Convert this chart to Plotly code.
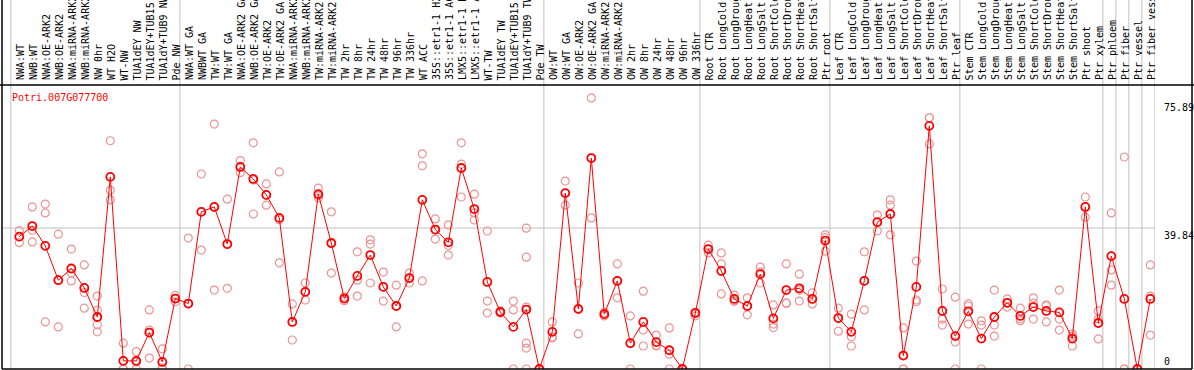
import plotly.graph_objects as go

labels = [
    "NWA:WT", "NWB:WT", "NWA:OE-ARK2", "NWB:OE-ARK2", "NWA:miRNA-ARK2", "NWB:miRNA-ARK2",
    "NW 0hr", "WT H2O", "WT-NW", "TUA1dEY NW", "TUA1dEY+TUB15 NW", "TUA1dY+TUB9 NW", "Pde NW",
    "NWA:WT GA", "NWBWT GA", "TW:WT", "TW:WT GA", "NWA:OE-ARK2 GA", "NWB:OE-ARK2 GA",
    "TW:OE-ARK2", "TW:OE-ARK2 GA", "NWA:miRNA-ARK2 GA", "NWB:miRNA-ARK2 GA", "TW:miRNA-ARK2",
    "TW:miRNA-ARK2 GA", "TW 2hr", "TW 8hr", "TW 24hr", "TW 48hr", "TW 96hr", "TW 336hr",
    "WT ACC", "35S::etr1-1 H2O", "35S::etr1-1 ACC", "LMX5::etr1-1 H2O", "LMX5::etr1-1 ACC",
    "WT-TW", "TUA1dEY TW", "TUA1dEY+TUB15 TW", "TUA1dY+TUB9 TW", "Pde TW",
    "OW:WT", "OW:WT GA", "OW:OE-ARK2", "OW:OE-ARK2 GA", "OW:miRNA-ARK2", "OW:miRNA-ARK2 GA",
    "OW 2hr", "OW 8hr", "OW 24hr", "OW 48hr", "OW 96hr", "OW 336hr",
    "Root CTR", "Root LongCold", "Root LongDrought", "Root LongHeat", "Root LongSalt",
    "Root ShortCold", "Root ShortDrought", "Root ShortHeat", "Root ShortSalt", "Ptr root",
    "Leaf CTR", "Leaf LongCold", "Leaf LongDrought", "Leaf LongHeat", "Leaf LongSalt",
    "Leaf ShortCold", "Leaf ShortDrought", "Leaf ShortHeat", "Leaf ShortSalt", "Ptr leaf",
    "Stem CTR", "Stem LongCold", "Stem LongDrought", "Stem LongHeat", "Stem LongSalt",
    "Stem ShortCold", "Stem ShortDrought", "Stem ShortHeat", "Stem ShortSalt", "Ptr shoot",
    "Ptr xylem", "Ptr phloem", "Ptr fiber", "Ptr vessel", "Ptr fiber vessel",
]

means = [
    37.4, 40.4, 34.8, 25.1, 28.4, 22.9, 14.7, 54.3, 2.3, 2.3, 10.3, 2.0, 19.9,
    18.5, 44.4, 45.8, 35.3, 57.1, 53.7, 49.2, 42.7, 13.3, 21.8, 49.4, 35.6, 19.9,
    26.3, 32.2, 23.2, 17.8, 25.7, 47.8, 39.4, 35.8, 56.8, 45.2, 24.6, 16.1, 11.9,
    16.8, 0.0,
    10.5, 49.7, 17.0, 59.6, 15.5, 24.9, 7.3, 13.3, 7.6, 5.3, 0.0, 15.8,
    33.9, 27.7, 19.8, 17.8, 26.8, 14.3, 22.3, 22.8, 19.8, 36.3,
    14.4, 10.5, 24.9, 41.5, 43.8, 3.8, 23.2, 68.7, 16.4, 9.3,
    16.3, 8.6, 14.7, 18.7, 15.0, 17.5, 16.4, 16.0, 8.6, 45.8, 13.0,
    31.9, 19.8, 0.0, 19.8,
]

replicates = [
    [39.1, 37.4, 35.7], [45.8, 39.2, 35.9], [46.6, 44.1, 13.3], [38.1, 25.2, 11.9],
    [33.9, 27.1, 24.9], [29.4, 21.6, 17.2], [20.6, 16.6, 14.6, 12.5, 10.5],
    [64.5, 50.5, 47.8], [7.3, 0, 0], [4.9, 2.0, 0], [16.7, 11.0, 3.1], [5.7, 0.3, 0],
    [20.8, 19.9, 19.0],
    [37.0, 18.4, 0], [55.1, 44.4, 33.6], [69.2, 45.8, 22.3], [48.0, 35.2, 22.8],
    [58.9, 57.1, 55.5], [63.9, 53.4, 43.8], [52.3, 49.1, 46.3], [55.7, 42.2, 30.0],
    [18.4, 13.3, 8.2], [24.3, 21.8, 19.5], [51.1, 49.0, 48.3], [44.4, 35.4, 27.1],
    [20.4, 19.9, 19.3], [33.1, 25.1, 20.6], [36.5, 35.3, 24.3], [27.4, 23.2, 19.2],
    [23.7, 17.8, 11.9], [27.1, 25.7, 24.3], [60.8, 57.4, 24.9], [42.4, 39.4, 36.7],
    [40.7, 34.9, 32.2], [63.9, 57.9, 48.6], [49.4, 44.1, 42.1], [39.0, 19.2, 15.8],
    [16.4, 16.1, 15.8], [19.2, 16.7, 0], [39.8, 31.6, 17.5, 7.3, 5.9, 0], [0, 0, 0],
    [13.3, 9.0, 8.8], [53.1, 49.7, 46.3], [24.3, 16.8, 9.9], [76.6, 59.6, 42.7],
    [16.0, 15.5, 15.0], [29.7, 24.9, 20.1], [15.0, 7.3, 0], [22.0, 11.0, 6.5],
    [9.6, 6.7, 6.5], [11.6, 4.2, 0], [0, 0, 0], [16.1, 15.8, 15.0],
    [35.0, 33.9, 32.8], [32.8, 29.7, 21.2], [20.9, 19.2, 19.2], [20.1, 17.8, 15.3],
    [28.8, 27.4, 24.3], [18.1, 12.7, 11.7], [29.7, 18.6, 18.6], [26.8, 22.3, 19.2],
    [21.5, 19.8, 18.4], [37.9, 37.1, 33.3],
    [17.2, 14.4, 10.7], [15.5, 9.1, 6.5], [33.1, 24.9, 16.7], [43.5, 41.5, 39.0],
    [47.8, 46.3, 37.9], [11.6, 0, 0], [30.5, 19.5, 19.0], [71.0, 71.0, 63.6],
    [22.6, 14.1, 12.4], [20.3, 7.6, 0],
    [18.4, 17.8, 12.7], [13.6, 12.4, 0], [22.3, 12.4, 9.3], [19.8, 18.7, 17.5],
    [17.2, 14.1, 13.6], [20.1, 18.6, 14.1], [18.1, 17.8, 13.3], [22.3, 14.1, 11.0],
    [9.9, 9.3, 6.5], [48.6, 45.8, 42.9], [16.4, 14.1, 8.5],
    [44.1, 28.0, 23.7], [59.9, 0, 0], [0, 0, 0], [29.4, 20.6, 9.6],
]

group_starts = [0, 13, 41, 53, 63, 73, 84, 85, 86, 87, 88]
y_ticks = [0, 39.84, 75.89]
gene = "Potri.007G077700"

# ---- layout geometry ----
W, H = 1194, 370
ML, MR, MT, MB = 2, 39, 85, 1
PW = W - ML - MR
PH = H - MT - MB
XR = [-1.331, 87.36]
YR = [0, 80.25]
MONO = "DejaVu Sans Mono"
GRAY = "#c0c0c0"

idx = list(range(len(labels)))
rx, ry = [], []
for i, reps in enumerate(replicates):
    for v in reps:
        rx.append(i)
        ry.append(v)

fig = go.Figure()
fig.add_trace(go.Scatter(
    x=rx, y=ry, mode="markers",
    marker=dict(symbol="circle-open", size=8, color="#ec9494", line=dict(width=1.2, color="#ec9494")),
    hoverinfo="skip", showlegend=False,
))
fig.add_trace(go.Scatter(
    x=idx, y=means, mode="lines+markers",
    line=dict(color="#ff0000", width=1),
    marker=dict(symbol="circle-open", size=8, color="#ff0000", line=dict(width=1.8, color="#ff0000")),
    showlegend=False,
))

shapes = []
top_paper = 1 + MT / PH + 0.01
# group separators
for b in group_starts:
    shapes.append(dict(type="line", xref="x", yref="paper", x0=b - 0.65, x1=b - 0.65,
                       y0=0, y1=top_paper, line=dict(color=GRAY, width=1), layer="below"))
# horizontal grid at middle tick
shapes.append(dict(type="line", xref="paper", yref="y", x0=0, x1=1, y0=y_ticks[1], y1=y_ticks[1],
                   line=dict(color=GRAY, width=1), layer="below"))
# black frame
right_paper = (W - 2 - ML) / PW
shapes += [
    dict(type="line", xref="paper", yref="paper", x0=0, x1=0, y0=0, y1=top_paper,
         line=dict(color="black", width=1.5)),
    dict(type="line", xref="paper", yref="paper", x0=right_paper, x1=right_paper, y0=0, y1=top_paper,
         line=dict(color="black", width=1.5)),
    dict(type="line", xref="paper", yref="paper", x0=-ML / PW, x1=(W - ML) / PW, y0=1, y1=1,
         line=dict(color="black", width=1.5)),
    dict(type="line", xref="paper", yref="paper", x0=0, x1=right_paper, y0=0, y1=0,
         line=dict(color="black", width=1.5)),
]

annotations = []
for i, lab in enumerate(labels):
    annotations.append(dict(
        x=i + 0.1, xref="x", y=1 + 2.5 / PH, yref="paper", text=lab, textangle=-90,
        showarrow=False, xanchor="center", yanchor="bottom",
        font=dict(family=MONO, size=10, color="black"),
    ))
ylab_x = (1162 - ML) / PW
for v in y_ticks:
    annotations.append(dict(
        x=ylab_x, xref="paper", y=v, yref="y", text=f"{v:g}", showarrow=False,
        xanchor="left", yanchor="bottom" if v == 0 else "top",
        font=dict(family=MONO, size=10, color="black"),
    ))
annotations.append(dict(
    x=(10 - ML) / PW, xref="paper", y=(H - MB - 97) / PH, yref="paper", text=gene,
    showarrow=False, xanchor="left", yanchor="middle",
    font=dict(family=MONO, size=10, color="#ff0000"),
))

fig.update_layout(
    width=W, height=H,
    margin=dict(l=ML, r=MR, t=MT, b=MB, pad=0),
    paper_bgcolor="white", plot_bgcolor="white",
    xaxis=dict(range=XR, showticklabels=False, showgrid=False, zeroline=False, ticks=""),
    yaxis=dict(range=YR, showticklabels=False, showgrid=False, zeroline=False, ticks=""),
    shapes=shapes, annotations=annotations,
    showlegend=False,
)

fig.write_html(
    "out.html",
    config={"displayModeBar": False},
    post_script="document.body.style.margin='0';document.body.style.overflow='hidden';",
)
